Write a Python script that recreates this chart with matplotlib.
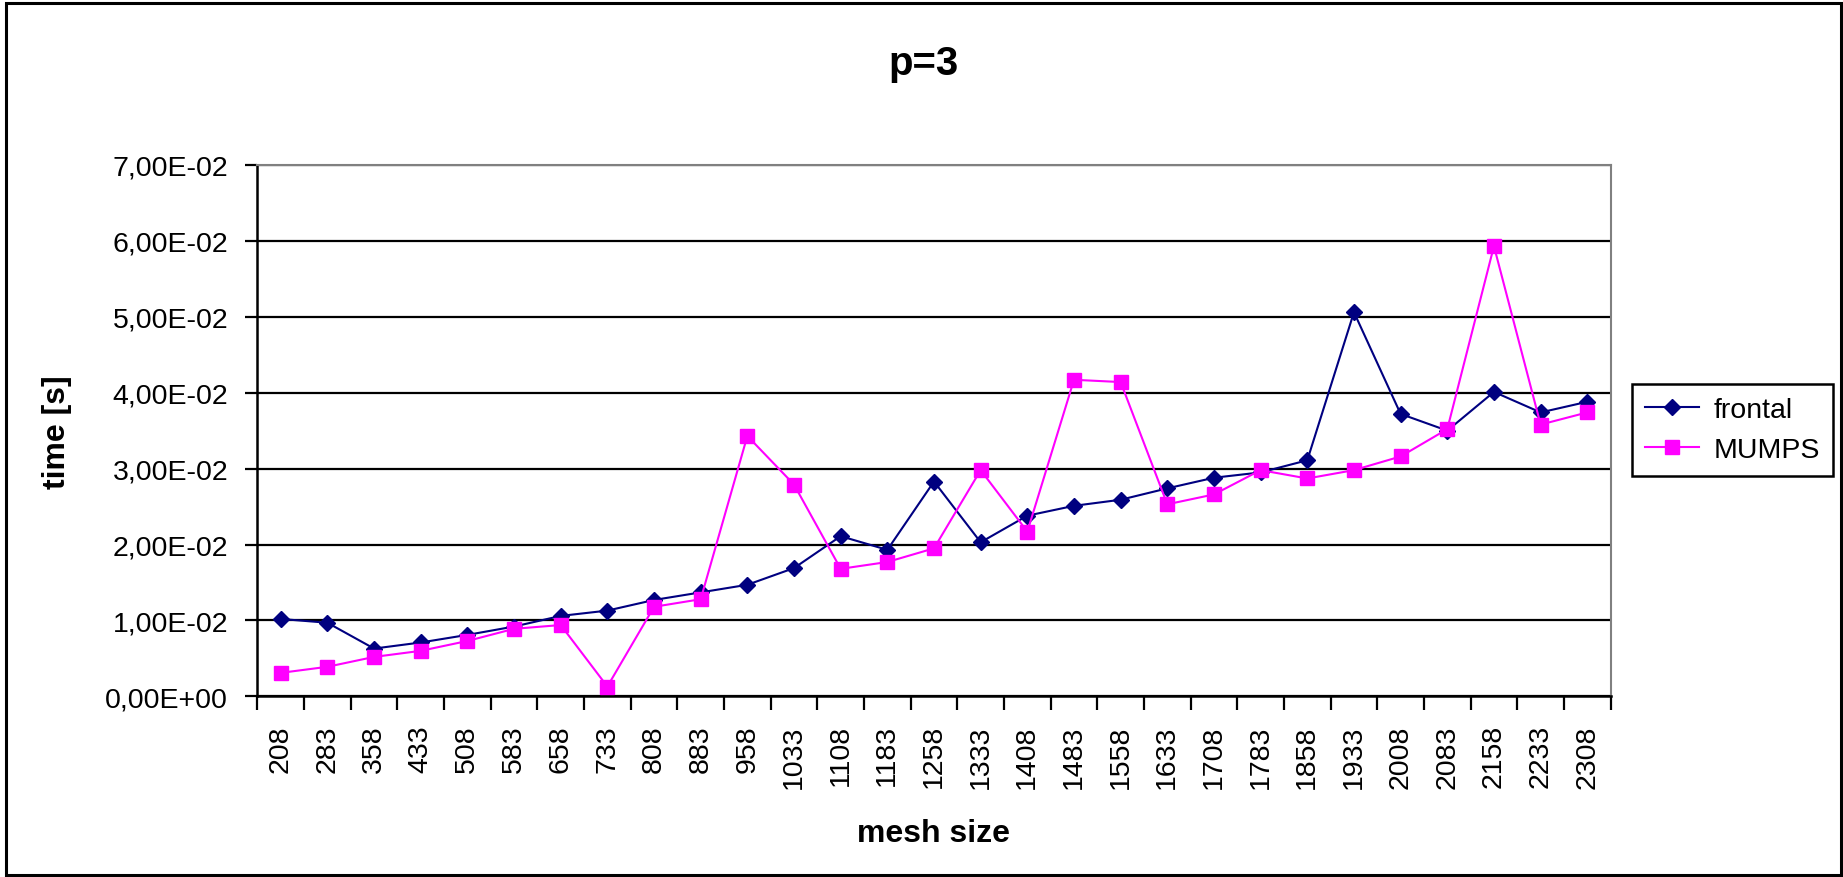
import numpy as np
import matplotlib
matplotlib.use("Agg")
from matplotlib import pyplot as plt
from matplotlib.patches import Rectangle
from matplotlib.ticker import FuncFormatter, MultipleLocator

plt.rcParams["font.family"] = ["Liberation Sans", "DejaVu Sans"]

# data
mesh_size = [208, 283, 358, 433, 508, 583, 658, 733, 808, 883, 958, 1033,
             1108, 1183, 1258, 1333, 1408, 1483, 1558, 1633, 1708, 1783,
             1858, 1933, 2008, 2083, 2158, 2233, 2308]
frontal = [0.0102, 0.0097, 0.0063, 0.0071, 0.0081, 0.0092, 0.0106, 0.0113,
           0.0127, 0.0137, 0.0147, 0.0169, 0.0211, 0.0193, 0.0283, 0.0203,
           0.0238, 0.0251, 0.0259, 0.0274, 0.0288, 0.0295, 0.0311, 0.0506,
           0.0372, 0.0350, 0.0401, 0.0374, 0.0388]
mumps = [0.0031, 0.0039, 0.0052, 0.0060, 0.0073, 0.0089, 0.0094, 0.0013,
         0.0118, 0.0128, 0.0343, 0.0279, 0.0168, 0.0177, 0.0195, 0.0298,
         0.0217, 0.0417, 0.0414, 0.0253, 0.0266, 0.0298, 0.0287, 0.0298,
         0.0316, 0.0352, 0.0593, 0.0358, 0.0374]

W, H = 1843, 878
fig = plt.figure(figsize=(W / 100, H / 100), dpi=100)
ax = fig.add_axes([257.4 / W, 1 - 697.4 / H, (1610.6 - 257.4) / W, (697.4 - 165.9) / H])

x = np.arange(len(mesh_size))
ax.plot(x, frontal, color="#000080", lw=1.5, marker="D", ms=8.5,
        label="frontal", zorder=3)
ax.plot(x, mumps, color="#FF00FF", lw=1.5, marker="s", ms=9.5,
        label="MUMPS", zorder=3)

ax.set_xlim(-0.5, len(mesh_size) - 0.5)
ax.set_ylim(0, 0.07)
ax.yaxis.set_major_locator(MultipleLocator(0.01))
ax.yaxis.set_major_formatter(FuncFormatter(lambda v, p: f"{v:.2E}".replace(".", ",")))
ax.set_xticks(x)
ax.set_xticklabels([str(m) for m in mesh_size], rotation=90)
ax.set_xticks(np.arange(-0.5, len(mesh_size)), minor=True)
ax.tick_params(axis="x", which="major", length=0, pad=20, labelsize=20.5)
ax.tick_params(axis="x", which="minor", length=10, width=1.6, direction="out")
ax.tick_params(axis="y", length=9, width=1.6, pad=12, labelsize=20.5)

ax.set_axisbelow(True)
ax.yaxis.grid(True, color="black", lw=1.6)
for side in ["left", "bottom"]:
    ax.spines[side].set_color("black")
    ax.spines[side].set_linewidth(1.8)
for side in ["top", "right"]:
    ax.spines[side].set_color("#808080")
    ax.spines[side].set_linewidth(1.5)

ax.set_xlabel("mesh size", fontsize=23, fontweight="bold", labelpad=22)
fig.text(57 / W, 1 - 432 / H, "time [s]", fontsize=23, fontweight="bold",
         rotation=90, ha="center", va="center")
fig.text(924 / W, 1 - 64 / H, "p=3", fontsize=29, fontweight="bold",
         ha="center", va="center")

leg = ax.legend(loc="center", bbox_to_anchor=(1732.5 / W, 1 - 430.8 / H),
                bbox_transform=fig.transFigure, fontsize=20.5, numpoints=1,
                handlelength=1.9, fancybox=False, framealpha=1,
                borderpad=0.45, labelspacing=0.5, handletextpad=0.5)
leg.get_frame().set_edgecolor("black")
leg.get_frame().set_linewidth(1.8)

fig.patches.append(Rectangle((6 / W, 2 / H), 1835 / W, 872 / H,
                             transform=fig.transFigure, fill=False,
                             edgecolor="black", lw=2.2))

fig.savefig("out.png", dpi=100)
